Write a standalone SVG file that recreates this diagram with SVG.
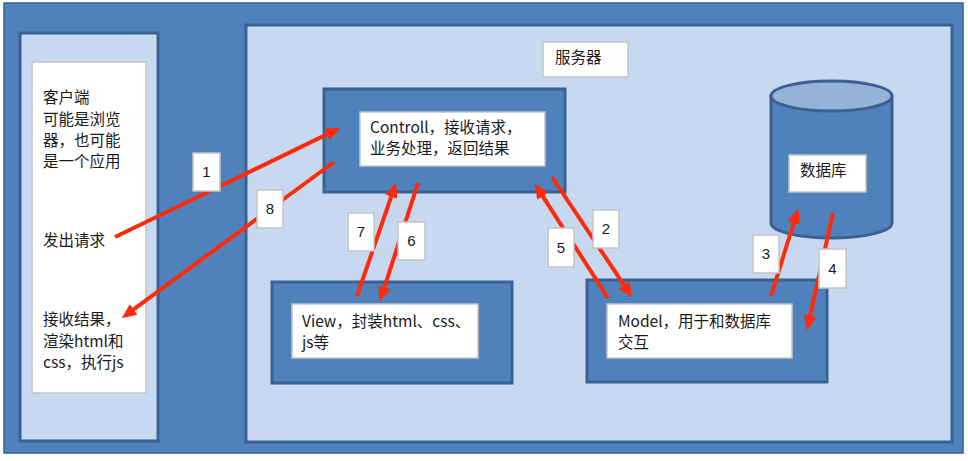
<svg xmlns="http://www.w3.org/2000/svg" width="968" height="461" viewBox="0 0 968 461">
<style>
.dark{fill:#4F81BD;stroke:#3A6191;stroke-width:3}
.light{fill:#C6D9F1;stroke:#3A6191;stroke-width:3}
.box{fill:#FFFFFF;stroke:#C3C3C3;stroke-width:1.5}
.t{font-family:"Noto Sans CJK SC","Liberation Sans",sans-serif;font-size:15.5px;fill:#1A1A1A}
.n{font-family:"Liberation Sans","Noto Sans CJK SC",sans-serif;font-size:15px;fill:#1A1A1A;text-anchor:middle}
.arrow{fill:none;stroke:#FF2A0A;stroke-width:4;stroke-linecap:butt;marker-end:url(#head)}
</style>
<defs>
<marker id="head" markerUnits="userSpaceOnUse" markerWidth="15" markerHeight="13" viewBox="0 0 15 13" refX="0.5" refY="6.5" orient="auto">
<path d="M0,0 L15,6.5 L0,13 z" fill="#FF2A0A"/>
</marker>
</defs>
<rect x="0" y="0" width="968" height="461" fill="#FFFFFF"/>
<rect id="background" x="4" y="3" width="959" height="450" fill="#4F81BD" stroke="#3A6191" stroke-width="1.5"/>
<g id="client">
<rect class="light" x="20" y="33" width="138" height="408"/>
<rect class="box" x="32" y="62" width="114" height="331"/>
<text class="t" x="43" y="103">客户端</text>
<text class="t" x="43" y="124.5">可能是浏览</text>
<text class="t" x="43" y="146">器，也可能</text>
<text class="t" x="43" y="167">是一个应用</text>
<text class="t" x="43" y="246">发出请求</text>
<text class="t" x="43" y="325">接收结果，</text>
<text class="t" x="43" y="346.5">渲染html和</text>
<text class="t" x="43" y="368">css，执行js</text>
</g>
<g id="server">
<rect class="light" x="246" y="25" width="706" height="417"/>
<rect class="box" x="543" y="42" width="85" height="35"/>
<text class="t" x="555" y="62.5">服务器</text>
</g>
<g id="controller">
<rect class="dark" x="324" y="89" width="241" height="103"/>
<rect class="box" x="360" y="112" width="185" height="54"/>
<text class="t" x="370" y="133">Controll，接收请求，</text>
<text class="t" x="370" y="154">业务处理，返回结果</text>
</g>
<g id="view">
<rect class="dark" x="272" y="282" width="240" height="101"/>
<rect class="box" x="292" y="304" width="186" height="54"/>
<text class="t" x="302" y="326.5">View，封装html、css、</text>
<text class="t" x="302" y="347.5">js等</text>
</g>
<g id="model">
<rect class="dark" x="587" y="280" width="240" height="102"/>
<rect class="box" x="607" y="304" width="185" height="54"/>
<text class="t" x="618" y="326.5">Model，用于和数据库</text>
<text class="t" x="618" y="347.5">交互</text>
</g>
<g id="database">
<path class="dark" d="M771,96 L771,223 A60.5,15 0 0 0 892,223 L892,96 z"/>
<ellipse cx="831.5" cy="96" rx="60.5" ry="15" fill="#95B3D7" stroke="#3A6191" stroke-width="3"/>
<rect class="box" x="789" y="155" width="77" height="37"/>
<text class="t" x="800" y="175.5">数据库</text>
</g>
<g id="connectors">
<line class="arrow" x1="115" y1="237" x2="327.4" y2="134.1"/>
<line class="arrow" x1="552" y1="177" x2="624.2" y2="285.4"/>
<line class="arrow" x1="771" y1="296" x2="793.9" y2="222.4"/>
<line class="arrow" x1="833" y1="213" x2="810" y2="316.3"/>
<line class="arrow" x1="608" y1="298" x2="542.5" y2="195.8"/>
<line class="arrow" x1="418" y1="183" x2="384.3" y2="287.7"/>
<line class="arrow" x1="357" y1="296" x2="391.4" y2="196.2"/>
<line class="arrow" x1="334" y1="162" x2="133.3" y2="309.7"/>
</g>
<g id="connector-labels">
<rect class="box" x="193" y="153" width="27" height="38"/><text class="n" x="206.5" y="177">1</text>
<rect class="box" x="593" y="210" width="26" height="38"/><text class="n" x="606" y="234">2</text>
<rect class="box" x="753" y="235" width="26" height="38"/><text class="n" x="766" y="259">3</text>
<rect class="box" x="819" y="249" width="27" height="39"/><text class="n" x="832.5" y="273.5">4</text>
<rect class="box" x="548" y="228" width="26" height="39"/><text class="n" x="561" y="252.5">5</text>
<rect class="box" x="398" y="222" width="27" height="38"/><text class="n" x="411.5" y="246">6</text>
<rect class="box" x="348" y="213" width="26" height="38"/><text class="n" x="361" y="237">7</text>
<rect class="box" x="257" y="190" width="26" height="38"/><text class="n" x="270" y="214">8</text>
</g>
</svg>
